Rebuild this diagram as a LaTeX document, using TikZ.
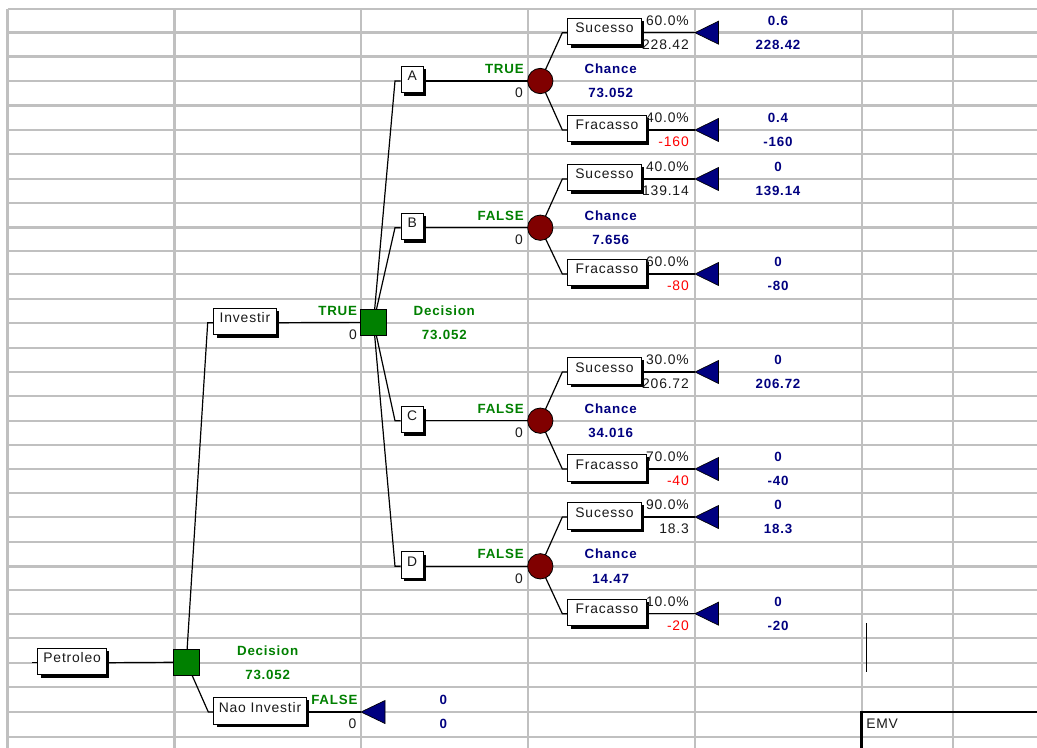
\documentclass[tikz,border=0pt]{standalone}
\usepackage{fontspec}
\setmainfont{Liberation Sans}[LetterSpace=6]
\usetikzlibrary{shadows}
\definecolor{gridc}{HTML}{C0C0C0}
\definecolor{dgreen}{HTML}{008000}
\definecolor{navyc}{HTML}{000080}
\definecolor{darkred}{HTML}{800000}
\definecolor{txt}{HTML}{1A1A1A}
\definecolor{redtxt}{HTML}{FF0000}
\pgfdeclarelayer{gridlayer}
\pgfdeclarelayer{bg}
\pgfsetlayers{gridlayer,bg,main}
\newcommand\gy[1]{\ifcase#1 9\or 32.7\or 56.7\or 81\or 105.7\or 130\or 154.3\or 179\or 203.3\or 227.7\or 251\or 274\or 298.7\or 322.7\or 347.7\or 372\or 396\or 420.7\or 444.7\or 469\or 493\or 517\or 541.7\or 566.3\or 590\or 613.7\or 637.7\or 662.7\or 686.7\or 712\or 736.7\fi}
\begin{document}
\begin{tikzpicture}[x=0.75pt,y=-0.75pt,
  every node/.style={font=\fontsize{10.4}{12}\selectfont, text=txt, inner sep=0pt},
  gridline/.style={gridc, line width=1.8pt},
  box/.style={draw=black, line width=0.75pt, fill=white, inner xsep=2pt, inner ysep=0pt,
    text height=11pt, text depth=9pt, anchor=base west,
    general shadow={fill=black, shadow xshift=2.2pt, shadow yshift=-2.2pt}},
  chance/.style={circle, draw=black, line width=0.6pt, fill=darkred, minimum size=19pt},
  dec/.style={rectangle, draw=black, line width=0.6pt, fill=dgreen, minimum size=19.6pt},
  conn/.style={line width=0.9pt, black},
  tri/.style={fill=navyc, draw=black, line width=0.5pt, line join=miter},
  lab/.style={font=\fontsize{10}{12}\selectfont\bfseries},
  num/.style={font=\fontsize{10.4}{12}\selectfont}
]
\useasboundingbox (0,0) rectangle (1037,748);
% spreadsheet grid
\begin{pgfonlayer}{gridlayer}
\fill[white] (0,0) rectangle (1037,748);
\foreach \k in {0,...,30}{
  \edef\yy{\gy{\k}}
  \draw[gridline] (7.5,\yy) -- (1037,\yy);
}
\foreach \x in {7.5,174.3,361,527.7,695,861.7,953}
  \draw[gridline] (\x,9) -- (\x,748);
\end{pgfonlayer}

% root decision
\node[box, minimum width=51.5pt] (pet) at (37.3,662.7) {Petroleo};
\node[dec] (dP) at (186.3,662.2) {};
\node[box, minimum width=46.8pt] (inv) at (213.3,322.7) {Investir};
\node[box, minimum width=69.3pt] (nao) at (213.3,712) {Nao Investir};
\node[dec] (dI) at (373.5,322.3) {};
\coordinate (start) at (32,662.7);
\coordinate (kinv) at (207.7,322.7);
\coordinate (knao) at (208.3,712);
\coordinate (tnao) at (361,712);
\begin{pgfonlayer}{bg}
\draw[conn] (start) -- (pet.base west);
\draw[conn] (pet.base east) -- (dP.center);
\draw[conn] (dP.center) -- (kinv) -- (inv.base west);
\draw[conn] (dP.center) -- (knao) -- (nao.base west);
\draw[conn] (inv.base east) -- (dI.center);
\draw[conn] (nao.base east) -- (tnao);
\end{pgfonlayer}
\filldraw[tri] (tnao) -- ++(24,-11.5) -- ++(0,23) -- cycle;

\node[lab, text=dgreen, anchor=base] (decP) at (267.7,655.35) {Decision};
\node[lab, text=dgreen, anchor=base] (evP) at (267.7,679.6) {73.052};
\node[lab, text=dgreen, anchor=base east] (tfI) at (357.3,315.35) {TRUE};
\node[num, anchor=base east] (zI) at (357,339.6) {0};
\node[lab, text=dgreen, anchor=base] (decI) at (444.3,315.35) {Decision};
\node[lab, text=dgreen, anchor=base] (evI) at (444.3,339.6) {73.052};
\node[lab, text=dgreen, anchor=base east] (tfN) at (357.7,704.65) {FALSE};
\node[num, anchor=base east] (zN) at (356.5,728.9) {0};
\node[lab, text=navyc, anchor=base] (pN) at (443.3,704.65) {0};
\node[lab, text=navyc, anchor=base] (vN) at (443.3,728.9) {0};

% chance subtrees
\foreach \na/\kk/\lb/\ev/\psu/\vsu/\bsu/\pfr/\vfr/\bfr in {
  A/3/TRUE/73.052/60.0\%/228.42/0.6/40.0\%/-160/0.4,
  B/9/FALSE/7.656/40.0\%/139.14/0/60.0\%/-80/0,
  C/17/FALSE/34.016/30.0\%/206.72/0/70.0\%/-40/0,
  D/23/FALSE/14.47/90.0\%/18.3/0/10.0\%/-20/0}{
  \edef\yk{\gy{\kk}}
  \pgfmathtruncatemacro\ks{\kk-2}
  \pgfmathtruncatemacro\kf{\kk+2}
  \edef\ys{\gy{\ks}}
  \edef\yf{\gy{\kf}}
  \node[box, minimum width=16.5pt] (b\na) at (400.7,\yk) {\na};
  \node[chance] (c\na) at (540.3,\yk) {};
  \node[box, minimum width=55pt] (s\na) at (567.3,\ys) {Sucesso};
  \node[box, minimum width=58.7pt] (f\na) at (567.3,\yf) {Fracasso};
  \coordinate (kb\na) at (395,\yk);
  \coordinate (ks\na) at (562.3,\ys);
  \coordinate (kf\na) at (562.3,\yf);
  \coordinate (ts\na) at (695,\ys);
  \coordinate (tf\na) at (695,\yf);
  \begin{pgfonlayer}{bg}
  \draw[conn] (dI.center) -- (kb\na) -- (b\na.base west);
  \draw[conn] (b\na.base east) -- (c\na.center);
  \draw[conn] (c\na.center) -- (ks\na) -- (s\na.base west);
  \draw[conn] (c\na.center) -- (kf\na) -- (f\na.base west);
  \draw[conn] (s\na.base east) -- (ts\na);
  \draw[conn] (f\na.base east) -- (tf\na);
  \end{pgfonlayer}
  \filldraw[tri] (ts\na) -- ++(23.5,-11.5) -- ++(0,23) -- cycle;
  \filldraw[tri] (tf\na) -- ++(23.5,-11.5) -- ++(0,23) -- cycle;
  \node[lab, text=dgreen, anchor=base east] (tf\na) at (524,{\yk-7.35}) {\lb};
  \node[num, anchor=base east] (z\na) at (523,{\yk+16.9}) {0};
  \node[lab, text=navyc, anchor=base] (ch\na) at (610.7,{\yk-7.35}) {Chance};
  \node[lab, text=navyc, anchor=base] (ev\na) at (610.7,{\yk+16.9}) {\ev};
  \node[num, anchor=base east] (ps\na) at (689,{\ys-7.35}) {\psu};
  \node[num, anchor=base east] (vs\na) at (689,{\ys+16.9}) {\vsu};
  \node[lab, text=navyc, anchor=base] (rps\na) at (778,{\ys-7.35}) {\bsu};
  \node[lab, text=navyc, anchor=base] (rvs\na) at (778,{\ys+16.9}) {\vsu};
  \node[num, anchor=base east] (pf\na) at (689,{\yf-7.35}) {\pfr};
  \node[num, text=redtxt, anchor=base east] (vf\na) at (689,{\yf+16.9}) {\vfr};
  \node[lab, text=navyc, anchor=base] (rpf\na) at (778,{\yf-7.35}) {\bfr};
  \node[lab, text=navyc, anchor=base] (rvf\na) at (778,{\yf+16.9}) {\vfr};
}

% EMV frame and marker line
\draw[black, line width=1.1pt] (866.7,623.3) -- (866.7,671.7);
\draw[black, line width=2pt] (861.7,748) -- (861.7,712) -- (1037,712);
\node[num, anchor=base west] (emv) at (866,728.6) {EMV};
\end{tikzpicture}
\end{document}
